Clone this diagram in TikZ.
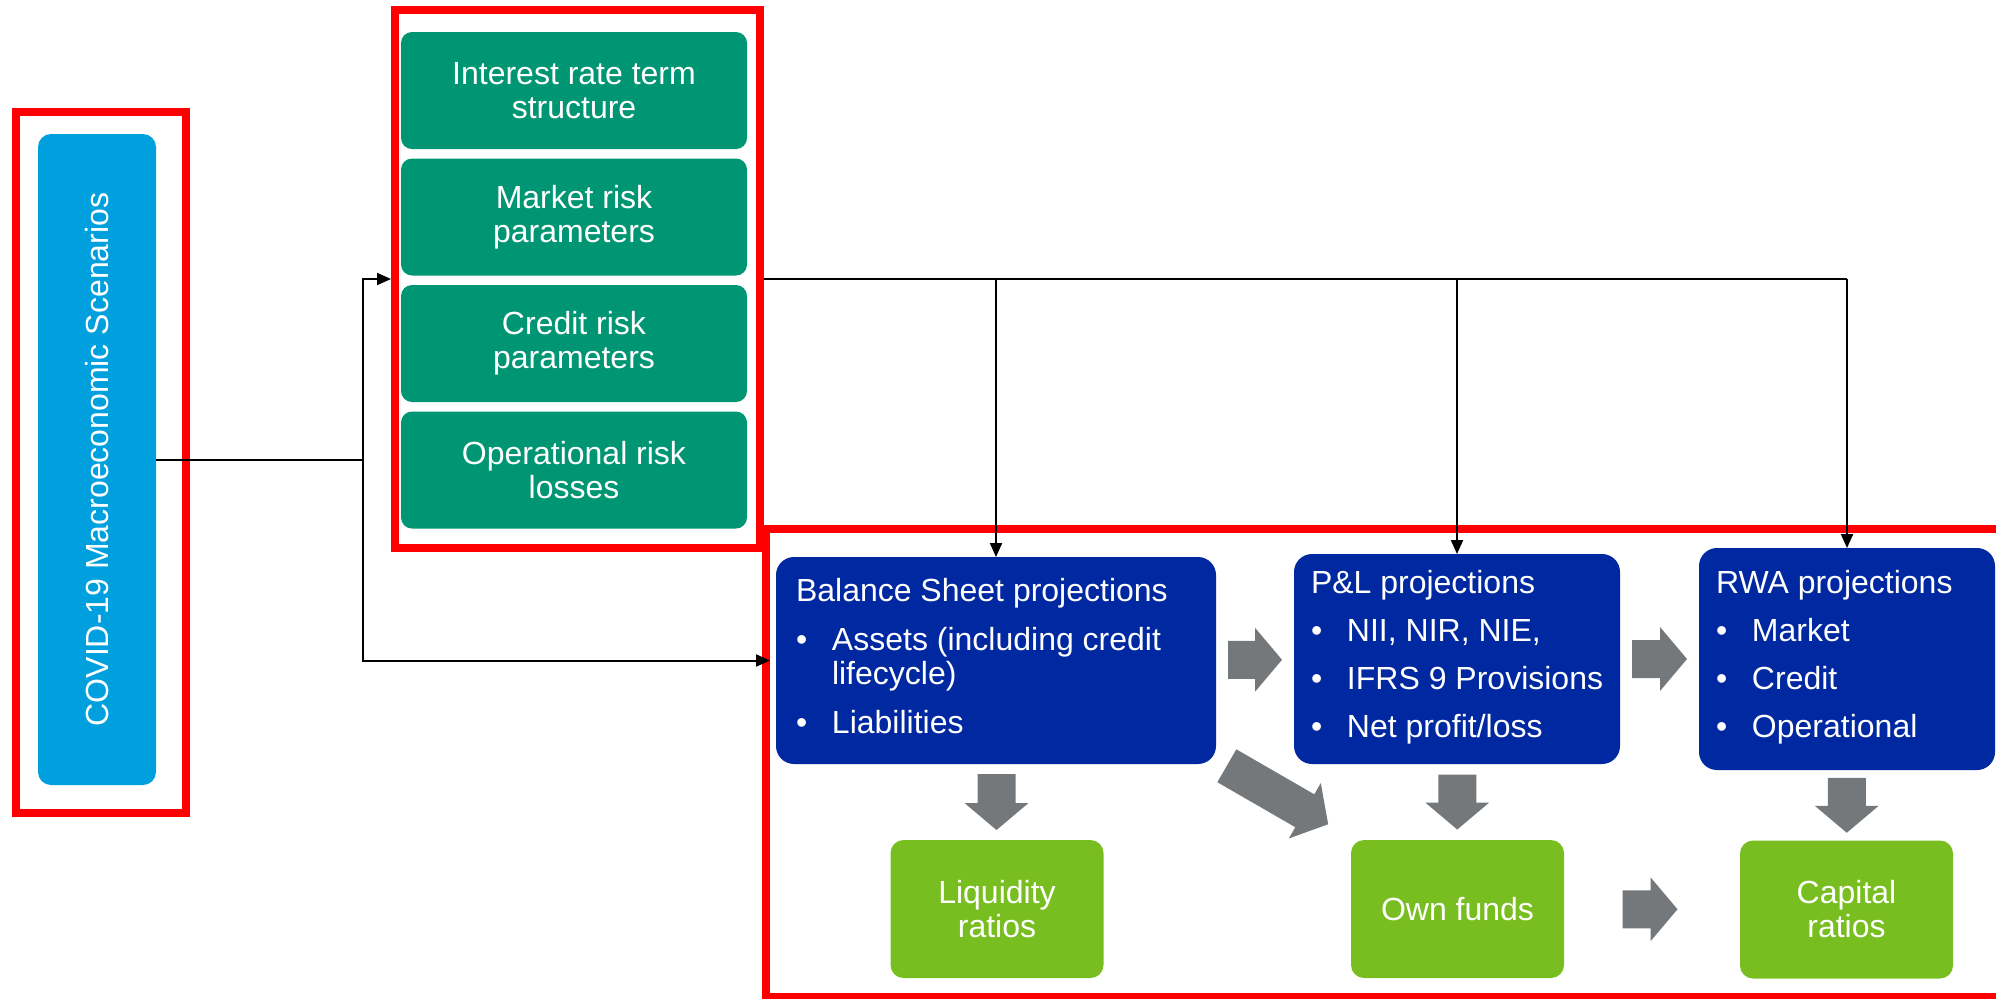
\documentclass[tikz,border=0pt]{standalone}
\usepackage{fontspec}
\setmainfont{Liberation Sans}
\usetikzlibrary{arrows.meta,calc}

\definecolor{cyanc}{RGB}{0,160,223}
\definecolor{tealc}{RGB}{0,150,115}
\definecolor{bluec}{RGB}{0,40,160}
\definecolor{limec}{RGB}{120,190,32}
\definecolor{grayc}{RGB}{117,120,123}
\definecolor{framered}{RGB}{255,0,0}

% bullet line and continuation indent inside the projection boxes
\newcommand{\bitem}[1]{\makebox[18pt][l]{\textbullet}#1}
\newcommand{\bcont}{\hspace*{18pt}}

% thick grey block arrow: #1 centre, #2 angle, #3 length (px units)
\newcommand{\grayarrow}[3]{%
  \fill[grayc, shift={#1}, rotate=#2]
    (-#3/2,-19) -- (#3/2-27,-19) -- (#3/2-27,-32) -- (#3/2,0)
    -- (#3/2-27,32) -- (#3/2-27,19) -- (-#3/2,19) -- cycle;}

\begin{document}
\begin{tikzpicture}[x=0.5pt,y=-0.5pt,
  every node/.style={font=\fontsize{16}{17}\selectfont, text=white},
  box/.style={inner sep=0pt, outer sep=0pt},
  frame/.style={draw=framered, line width=4pt, inner sep=0pt, outer sep=2pt},
  tealbox/.style={box, align=center, fill=tealc, rounded corners=5.5pt,
                  minimum width=173pt, minimum height=58.5pt},
  bluebox/.style={box, fill=bluec, rounded corners=9pt},
  limebox/.style={box, align=center, fill=limec, rounded corners=6.5pt,
                  minimum width=106.5pt, minimum height=69pt},
  conn/.style={draw=black, line width=1pt},
  feed/.style={conn, -{Triangle[length=7pt,width=6pt]}}]

\useasboundingbox (0,0) rectangle (1996,998);
\clip (0,0) rectangle (1996,998);

% red grouping frames
\node[frame, minimum width=85pt, minimum height=350.5pt] (lframe) at (101,462.5) {};
\node[frame, minimum width=182.5pt, minimum height=269pt] (gframe) at (577.5,279) {};
\node[frame, minimum width=622pt, minimum height=234pt] (bframe) at (1388,763) {};

% scenario box
\node[box, fill=cyanc, rounded corners=6.5pt, minimum width=59pt, minimum height=325.5pt]
  (covid) at (97,459.5) {};
\node[rotate=90] (covidlabel) at (covid.center) {COVID-19 Macroeconomic Scenarios};

% risk parameter boxes
\node[tealbox] (g1) at (574,90.5)  {Interest rate term\\structure};
\node[tealbox] (g2) at (574,217)   {Market risk\\parameters};
\node[tealbox] (g3) at (574,343.5) {Credit risk\\parameters};
\node[tealbox] (g4) at (574,470)   {Operational risk\\losses};

% projection boxes
\node[bluebox, minimum width=220pt, minimum height=103.5pt, inner xsep=10pt] (bs) at (996,660.5)
  {\makebox[200pt][l]{\begin{tabular}{@{}l@{}}Balance Sheet projections\\[7.5pt]
   \bitem{Assets (including credit}\\ \bcont lifecycle)\\[7.5pt]
   \bitem{Liabilities}\end{tabular}}};
\node[bluebox, minimum width=163pt, minimum height=105pt, inner xsep=8.5pt] (pl) at (1457,659)
  {\makebox[146pt][l]{\begin{tabular}{@{}l@{}}P\&L projections\\[7pt]
   \bitem{NII, NIR, NIE,}\\[7pt]
   \bitem{IFRS 9 Provisions}\\[7pt]
   \bitem{Net profit/loss}\end{tabular}}};
\node[bluebox, minimum width=148pt, minimum height=111pt, inner xsep=8.5pt] (rwa) at (1847,659)
  {\makebox[131pt][l]{\begin{tabular}{@{}l@{}}RWA projections\\[7pt]
   \bitem{Market}\\[7pt]
   \bitem{Credit}\\[7pt]
   \bitem{Operational}\end{tabular}}};

% ratio boxes
\node[limebox] (liq) at (997,909)    {Liquidity\\ratios};
\node[limebox] (own) at (1457.5,909) {Own funds};
\node[limebox] (cap) at (1846.5,909.5) {Capital\\ratios};

% grey flow arrows
\grayarrow{($(bs.east)!.5!(pl.west)$)}{0}{54}
\grayarrow{($(pl.east)!.5!(rwa.west)$)}{0}{55}
\grayarrow{($(own.east)!.5!(cap.west)+(-2,0)$)}{0}{55}
\grayarrow{($(bs.south)!.5!(liq.north)$)}{-90}{56}
\grayarrow{($(pl.south)!.5!(own.north)$)}{-90}{55}
\grayarrow{($(rwa.south)!.5!(cap.north)$)}{-90}{55}
\grayarrow{($(bs.south east)!.5!(own.north west)+(-6,-7)$)}{-30}{117}

% scenario feed lines
\path (covid.east) ++(207,0) coordinate (branch);
\path (bframe.west |- bs.west) ++(8,0) coordinate (bentry);
\draw[conn] (covid.east) -- (branch);
\draw[feed] (branch) |- (gframe.west);
\draw[feed] (branch) |- (bentry);

% parameter distribution lines
\draw[conn] (gframe.east) -- (gframe.east -| rwa.north);
\draw[feed] (gframe.east -| bs.north) -- (bs.north);
\draw[feed] (gframe.east -| pl.north) -- (pl.north);
\draw[feed] (gframe.east -| rwa.north) -- (rwa.north);

\end{tikzpicture}
\end{document}
